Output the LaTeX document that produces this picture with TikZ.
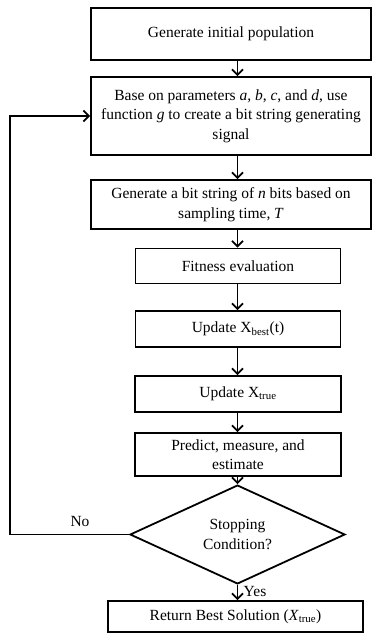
\documentclass[tikz,border=0pt]{standalone}
\usepackage{fontspec}
\setmainfont{Liberation Serif}
\usetikzlibrary{
   arrows.meta,
   positioning,
   shapes.geometric
}

\begin{document}
\begin{tikzpicture}[
  x=1pt, y=-1pt,
  every node/.style={font=\fontsize{15.5}{19.5}\selectfont},
  box/.style={draw, line width=1.8pt, align=center, inner sep=2pt},
  arr/.style={line width=1.8pt, -{Straight Barb[length=5.5pt,width=11pt]}},
]

\useasboundingbox (0,0) rectangle (372,637);

% wide boxes
\node[box, minimum width=280pt, minimum height=52pt] (init) at (231,34) {Generate initial population};
\node[box, minimum width=280pt, minimum height=78pt] (base) at (231,116)
  {Base on parameters \textit{a}, \textit{b}, \textit{c}, and \textit{d}, use\\
   function \textit{g} to create a bit string generating\\ signal};
\node[box, minimum width=280pt, minimum height=49pt] (gen) at (231,204.5)
  {Generate a bit string of \textit{n} bits based on\\ sampling time, \textit{T}};

% narrow boxes
\node[box, minimum width=205pt, minimum height=35pt] (fit) at (238,266) {Fitness evaluation};
\node[box, minimum width=205pt, minimum height=36pt] (best) at (238,329) {Update X\textsubscript{best}(t)};
\node[box, minimum width=206pt, minimum height=36pt] (true) at (238,394) {Update X\textsubscript{true}};
\node[box, minimum width=206pt, minimum height=43pt] (pred) at (238,454.5) {Predict, measure, and\\ estimate};

% decision
\node[box, diamond, inner sep=0pt, minimum width=215pt, minimum height=77pt] (stop) at (237.5,534.5)
  {Stopping\\ Condition?};
\node[box, minimum width=255pt, minimum height=31pt] (ret) at (235.5,616.5)
  {Return Best Solution (\textit{X}\textsubscript{true})};

% flow
\draw[arr] (init.south -| stop) -- (base.north -| stop);
\draw[arr] (base.south -| stop) -- (gen.north -| stop);
\draw[arr] (gen.south -| stop) -- (fit.north -| stop);
\draw[arr] (fit.south -| stop) -- (best.north -| stop);
\draw[arr] (best.south -| stop) -- (true.north -| stop);
\draw[arr] (true.south -| stop) -- (pred.north -| stop);
\draw[arr] (pred.south -| stop) -- (stop.north);
\draw[arr] (stop.south) -- (ret.north -| stop) node[pos=0.45, right=2pt] (yes) {Yes};

% loop back
\coordinate (back) at (10,534.5);
\draw[arr] (stop.west) -- (back) -- (back |- base.west) -- (base.west);
\node (no) at (80,521) {No};

\end{tikzpicture}
\end{document}
